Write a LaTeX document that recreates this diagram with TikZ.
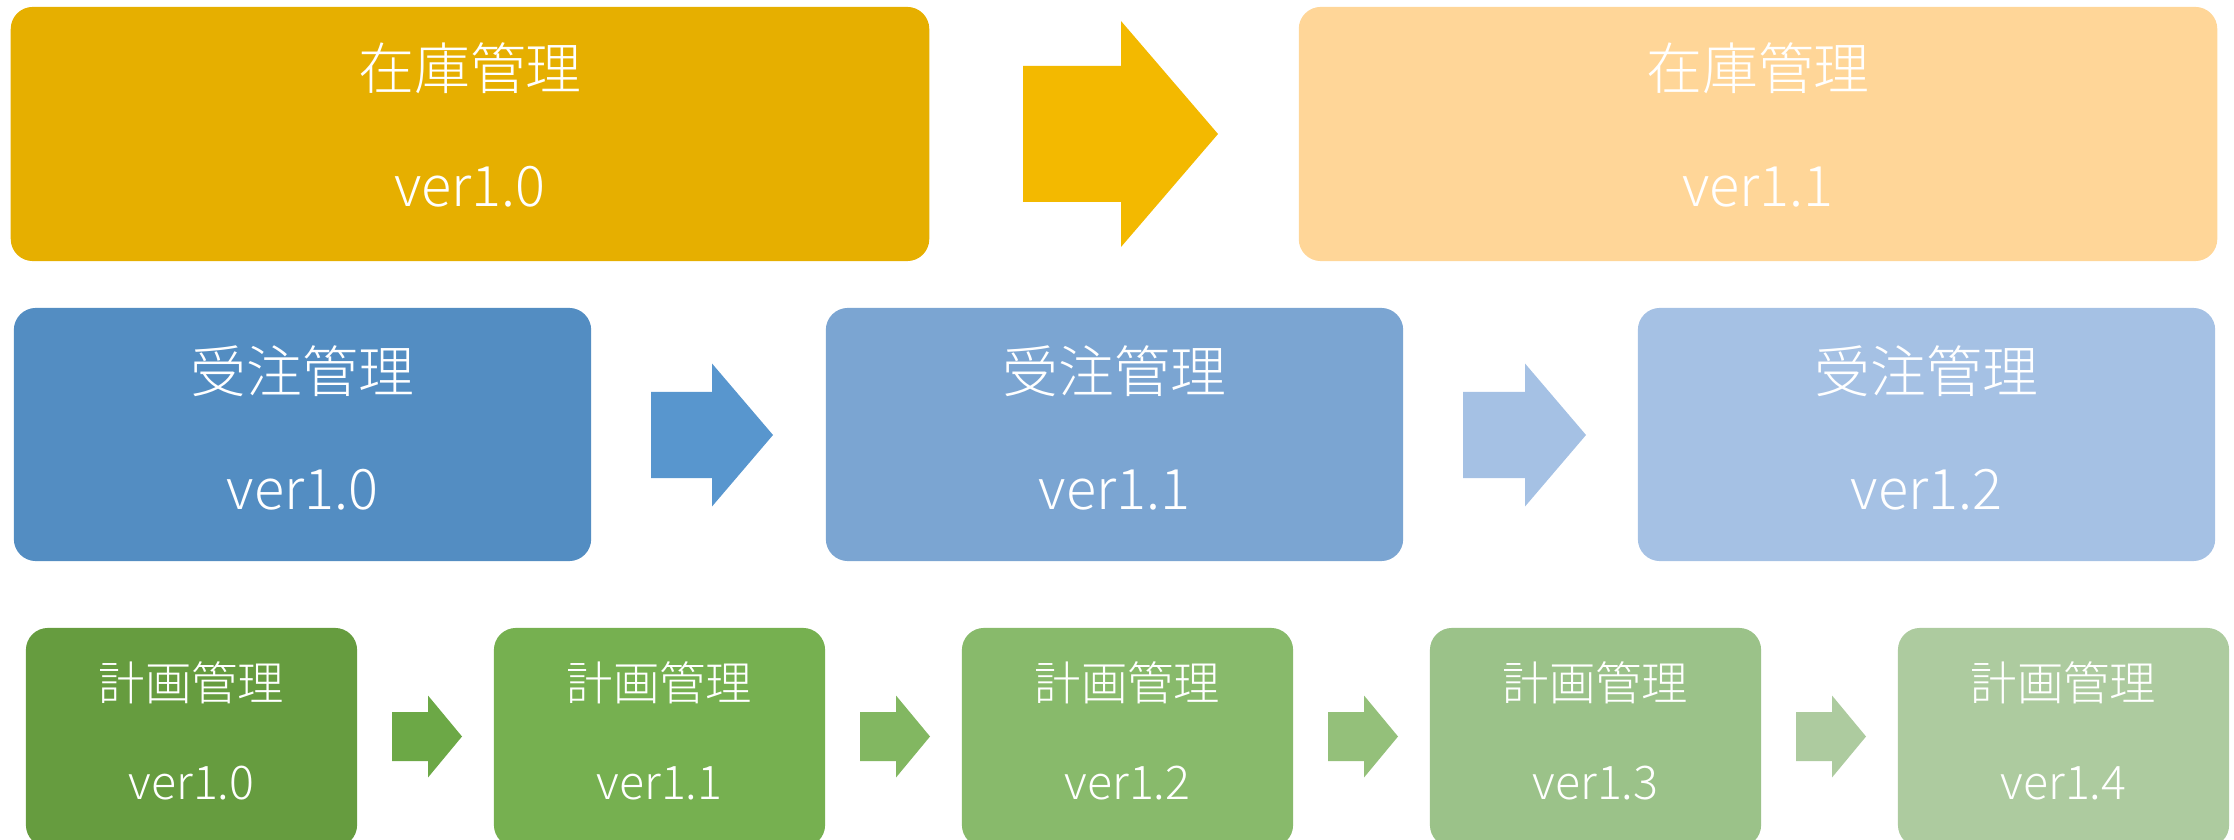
\documentclass[tikz,border=0pt]{standalone}
\usepackage{fontspec}
\IfFontExistsTF{Noto Sans CJK JP Light}{\newfontfamily\jpfont{Noto Sans CJK JP Light}}{\newfontfamily\jpfont{Noto Sans CJK JP}}
\usetikzlibrary{calc}
\definecolor{zA}{RGB}{230,175,0}
\definecolor{zArr}{RGB}{243,185,0}
\definecolor{zB}{RGB}{255,214,152}
\definecolor{jC}{RGB}{83,141,194}
\definecolor{jArrA}{RGB}{88,150,206}
\definecolor{jD}{RGB}{123,165,210}
\definecolor{jArrB}{RGB}{165,193,228}
\definecolor{jE}{RGB}{165,193,228}
\definecolor{kA}{RGB}{102,156,63}
\definecolor{kArrA}{RGB}{108,168,70}
\definecolor{kB}{RGB}{118,176,80}
\definecolor{kArrB}{RGB}{130,183,97}
\definecolor{kC}{RGB}{136,186,107}
\definecolor{kArrC}{RGB}{148,192,122}
\definecolor{kD}{RGB}{155,194,137}
\definecolor{kArrD}{RGB}{173,203,159}
\definecolor{kE}{RGB}{173,203,159}
\newcommand\blockarrow[7]{%
  \fill[#7] (#1,{#2-#5}) -- (#3,{#2-#5}) -- (#3,{#2-#6}) -- (#4,#2) -- (#3,{#2+#6}) -- (#3,{#2+#5}) -- (#1,{#2+#5}) -- cycle;}
\tikzset{
  vbox/.style={rectangle, rounded corners=0.22cm, inner sep=0pt, outer sep=0pt, draw=none},
  bigbox/.style={vbox, minimum height=2.54cm},
  midbox/.style={vbox, minimum width=5.77cm, minimum height=2.53cm},
  smallbox/.style={vbox, minimum width=3.31cm, minimum height=2.19cm},
  lbl/.style={text=white, anchor=base, inner sep=0pt, font=\jpfont\fontsize{15.9}{19}\selectfont},
  slbl/.style={lbl, font=\jpfont\fontsize{13.2}{16}\selectfont}
}
\begin{document}
\begin{tikzpicture}[x=0.01cm,y=-0.01cm]
\useasboundingbox (0,0) rectangle (2234,840);
\clip (0,0) rectangle (2234,840);
% row 1
\node[bigbox, minimum width=9.18cm, fill=zA] (za) at (470,134) {};
\node[bigbox, minimum width=9.18cm, fill=zB] (zb) at (1758,134) {};
\blockarrow{1023}{134}{1121}{1218}{68}{113}{zArr}
\node[lbl] (zat) at ($(za.center)+(0,-44)$) {在庫管理};
\node[lbl] (zav) at ($(za.center)+(0,73)$) {ver1.0};
\node[lbl] (zbt) at ($(zb.center)+(0,-44)$) {在庫管理};
\node[lbl] (zbv) at ($(zb.center)+(0,73)$) {ver1.1};
% row 2
\node[midbox, fill=jC] (jc) at (302.5,434.5) {};
\node[midbox, fill=jD] (jd) at (1114.5,434.5) {};
\node[midbox, fill=jE] (je) at (1926.5,434.5) {};
\blockarrow{651}{435}{712}{773}{43}{71.5}{jArrA}
\blockarrow{1463}{435}{1525}{1586}{43}{71.5}{jArrB}
\foreach \n/\v in {jc/ver1.0, jd/ver1.1, je/ver1.2}{
  \node[lbl] (\n t) at ($(\n.center)+(0,-41.5)$) {受注管理};
  \node[lbl] (\n v) at ($(\n.center)+(0,74.5)$) {\v};
}
% row 3
\node[smallbox, fill=kA] (ka) at (191.5,737.5) {};
\node[smallbox, fill=kB] (kb) at (659.5,737.5) {};
\node[smallbox, fill=kC] (kc) at (1127.5,737.5) {};
\node[smallbox, fill=kD] (kd) at (1595.5,737.5) {};
\node[smallbox, fill=kE] (ke) at (2063.5,737.5) {};
\blockarrow{392}{736.5}{428}{462}{24.5}{41}{kArrA}
\blockarrow{860}{736.5}{896}{930}{24.5}{41}{kArrB}
\blockarrow{1328}{736.5}{1364}{1398}{24.5}{41}{kArrC}
\blockarrow{1796}{736.5}{1832}{1866}{24.5}{41}{kArrD}
\foreach \n/\v in {ka/ver1.0, kb/ver1.1, kc/ver1.2, kd/ver1.3, ke/ver1.4}{
  \node[slbl] (\n t) at ($(\n.center)+(0,-37.5)$) {計画管理};
  \node[slbl] (\n v) at ($(\n.center)+(0,61.5)$) {\v};
}
\end{tikzpicture}
\end{document}
